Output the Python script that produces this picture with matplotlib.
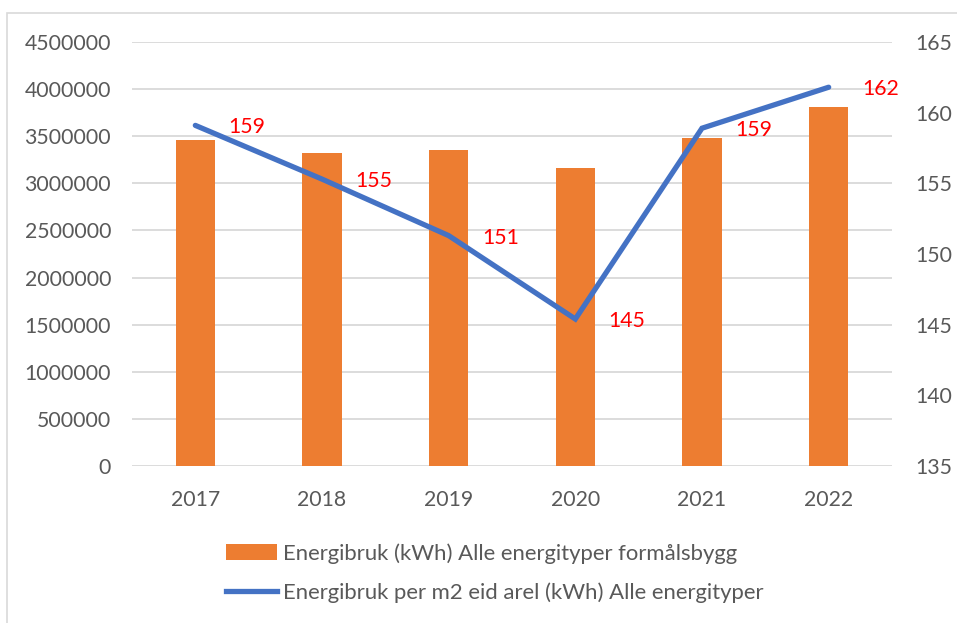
import matplotlib
matplotlib.use("Agg")
import matplotlib.pyplot as plt
from matplotlib.patches import Rectangle
from matplotlib.lines import Line2D
from matplotlib.patches import Patch

plt.rcParams['font.family'] = ['Lato', 'DejaVu Sans']

years = ["2017", "2018", "2019", "2020", "2021", "2022"]
energy_kwh = [3461000, 3326000, 3351000, 3167000, 3482000, 3814000]
energy_per_m2 = [159.1, 155.3, 151.3, 145.4, 158.9, 161.8]
per_m2_labels = ["159", "155", "151", "145", "159", "162"]
left_ticks = [0, 500000, 1000000, 1500000, 2000000, 2500000, 3000000, 3500000, 4000000, 4500000]
right_ticks = [135, 140, 145, 150, 155, 160, 165]
bar_label = "Energibruk (kWh) Alle energityper formålsbygg"
line_label = "Energibruk per m2 eid arel (kWh) Alle energityper"

W, H = 957, 623
fig = plt.figure(figsize=(W / 100, H / 100), dpi=100)
ax = fig.add_axes([132 / W, 1 - 466 / H, 760 / W, 424 / H])
ax2 = ax.twinx()

orange = "#ED7D31"
blue = "#4472C4"
grey = "#595959"
fs = 15.3

x = list(range(len(years)))
ax.bar(x, energy_kwh, width=0.31, color=orange, zorder=2)
ax.set_xlim(-0.5, 5.5)
ax.set_ylim(0, 4500000)
ax.set_yticks(left_ticks)
ax.set_yticklabels([str(t) for t in left_ticks])
ax.set_xticks(x)
ax.set_xticklabels(years)
ax.grid(axis='y', color="#d9d9d9", linewidth=1.3, zorder=0)
ax.set_axisbelow(True)
for s in ax.spines.values():
    s.set_visible(False)
ax.tick_params(axis='both', length=0, labelsize=fs, labelcolor=grey)
ax.tick_params(axis='y', pad=15)
ax.tick_params(axis='x', pad=17)

ax2.plot(x, energy_per_m2, color=blue, linewidth=3.8, solid_capstyle='round', solid_joinstyle='miter', zorder=3)
ax2.set_ylim(135, 165)
ax2.set_yticks(right_ticks)
ax2.set_yticklabels([str(t) for t in right_ticks])
for s in ax2.spines.values():
    s.set_visible(False)
ax2.tick_params(axis='y', length=0, labelsize=fs, labelcolor=grey, pad=17)
for xi, v, lab in zip(x, energy_per_m2, per_m2_labels):
    ax2.annotate(lab, (xi, v), xytext=(24, -1.5), textcoords='offset points',
                 ha='left', va='center', color="#FF0000", fontsize=fs)

# outer chart border
fig.patches.append(Rectangle((7.5 / W, -0.1), 1.2, 1 - 12.5 / H + 0.1,
                             transform=fig.transFigure, fill=False,
                             edgecolor="#d9d9d9", linewidth=1.2))

handles = [Patch(facecolor=orange, edgecolor='none', label=bar_label),
           Line2D([0], [0], color=blue, linewidth=3.8, label=line_label)]
fig.legend(handles=handles, loc='upper left', bbox_to_anchor=(215 / W, 1 - 532 / H),
           frameon=False, fontsize=15.9, labelcolor=grey, handlelength=2.3,
           handletextpad=0.3, labelspacing=0.85, borderpad=0)

fig.savefig("out.png", dpi=100)
